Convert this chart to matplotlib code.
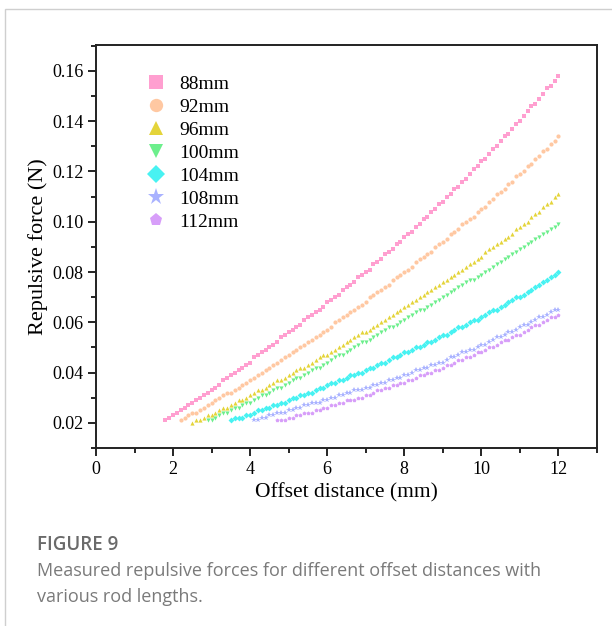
import matplotlib.pyplot as plt
import numpy as np
from matplotlib.patches import Rectangle
from matplotlib.ticker import MultipleLocator

plt.rcParams['font.family'] = ['Liberation Serif', 'DejaVu Serif']

LABELS = ['88mm', '92mm', '96mm', '100mm', '104mm', '108mm', '112mm']
MARKERS = ['s', 'o', '^', 'v', 'D', '*', 'p']
COLORS = ['#ff9fd0', '#ffc8a2', '#e4d43a', '#6cef8c', '#48f2f2', '#a9b2ff', '#d79ef9']

# first offset (mm) of each sweep; every sweep steps 0.1 mm up to 12 mm
START = [1.8, 2.2, 2.5, 2.9, 3.5, 4.1, 4.7]

# repulsive force in mN
f88 = [21, 22, 23,
       24, 25, 26, 27, 28, 29, 30, 31, 32, 33,
       34, 35, 37, 38, 39, 40, 41, 42, 43, 44,
       46, 47, 48, 49, 50, 51, 52, 54, 55, 56,
       57, 58, 59, 61, 62, 63, 64, 65, 66, 68,
       69, 70, 71, 73, 74, 75, 76, 78, 79, 80,
       81, 83, 84, 85, 87, 88, 89, 91, 92, 94,
       95, 96, 98, 99, 101, 102, 104, 105, 107, 108,
       110, 111, 113, 114, 116, 117, 119, 121, 122, 124,
       125, 127, 129, 130, 132, 134, 135, 137, 139, 140,
       142, 144, 146, 147, 149, 151, 153, 154, 156, 158]
f92 = [21, 22, 23, 24, 24, 25, 26, 27, 28,
       29, 30, 31, 32, 32, 33, 34, 35, 36, 37,
       38, 39, 40, 41, 42, 43, 44, 45, 46, 47,
       48, 49, 50, 51, 52, 53, 54, 55, 56, 57,
       58, 60, 61, 62, 63, 64, 65, 66, 67, 68,
       70, 71, 72, 73, 74, 75, 77, 78, 79, 80,
       81, 82, 84, 85, 86, 87, 88, 90, 91, 92,
       93, 95, 96, 97, 99, 100, 101, 102, 104, 105,
       106, 108, 109, 111, 112, 113, 115, 116, 118, 119,
       120, 122, 123, 125, 126, 128, 129, 131, 132, 134]
f96 = [20, 21, 21, 22, 23, 23,
       24, 25, 26, 26, 27, 28, 29, 29, 30, 31,
       32, 33, 33, 34, 35, 36, 37, 37, 38, 39,
       40, 41, 42, 42, 43, 44, 45, 46, 47, 47,
       48, 49, 50, 51, 52, 53, 54, 55, 56, 56,
       57, 58, 59, 60, 61, 62, 63, 64, 65, 66,
       67, 68, 69, 70, 71, 72, 73, 74, 75, 76,
       77, 78, 79, 80, 81, 82, 83, 84, 85, 86,
       88, 89, 90, 91, 92, 93, 94, 95, 97, 98,
       99, 100, 102, 103, 104, 106, 107, 108, 110, 111]
f100 = [21, 21,
        22, 23, 24, 24, 25, 26, 26, 27, 28, 28,
        29, 30, 31, 31, 32, 33, 34, 34, 35, 36,
        37, 38, 38, 39, 40, 41, 42, 42, 43, 44,
        45, 46, 47, 47, 48, 49, 50, 51, 52, 52,
        53, 54, 55, 56, 57, 58, 58, 59, 60, 61,
        62, 63, 64, 65, 65, 66, 67, 68, 69, 70,
        71, 72, 73, 74, 75, 76, 77, 77, 78, 79,
        80, 81, 82, 83, 84, 85, 86, 87, 88, 89,
        90, 91, 92, 93, 94, 95, 96, 97, 98, 99]
f104 = [21, 22, 22, 22, 23, 23,
        24, 25, 25, 26, 26, 27, 27, 28, 28, 29,
        30, 30, 31, 31, 32, 32, 33, 34, 34, 35,
        36, 36, 37, 37, 38, 39, 39, 40, 40, 41,
        42, 42, 43, 44, 44, 45, 46, 46, 47, 48,
        48, 49, 50, 50, 51, 52, 52, 53, 54, 55,
        55, 56, 57, 58, 58, 59, 60, 61, 61, 62,
        63, 64, 65, 65, 66, 67, 68, 69, 70, 70,
        71, 72, 73, 74, 75, 76, 77, 78, 79, 80]
f108 = [21, 21, 22, 22, 23, 23, 24, 24, 24, 25,
        25, 26, 26, 27, 27, 28, 28, 28, 29, 29,
        30, 30, 31, 31, 32, 32, 33, 33, 33, 34,
        34, 35, 35, 36, 36, 37, 37, 38, 38, 39,
        39, 40, 41, 41, 42, 42, 43, 43, 44, 44,
        45, 46, 46, 47, 48, 48, 49, 49, 50, 51,
        51, 52, 53, 54, 54, 55, 56, 56, 57, 58,
        59, 59, 60, 61, 62, 62, 63, 64, 65, 65]
f112 = [21, 21, 21, 22,
        22, 23, 23, 24, 24, 24, 25, 25, 26, 26,
        27, 27, 28, 28, 29, 29, 29, 30, 30, 31,
        31, 32, 33, 33, 34, 34, 35, 35, 36, 36,
        37, 37, 38, 39, 39, 40, 40, 41, 41, 42,
        43, 43, 44, 45, 45, 46, 46, 47, 48, 48,
        49, 50, 50, 51, 52, 53, 53, 54, 55, 55,
        56, 57, 58, 59, 59, 60, 61, 62, 62, 63]
FORCES = [f88, f92, f96, f100, f104, f108, f112]

fig = plt.figure(figsize=(6.12, 6.26), dpi=100)

# light frame around the figure panel (top and left edges show)
fig.patches.append(Rectangle((4.5 / 612, -0.1), 1.2, 1.1 - 8.5 / 626,
                             transform=fig.transFigure, fill=False,
                             edgecolor='#cfcfcf', linewidth=1.0))

ax = fig.add_axes([96 / 612, 1 - 448 / 626, 501 / 612, 403 / 626])

for x0, f, lab, m, c in zip(START, FORCES, LABELS, MARKERS, COLORS):
    x = np.round(np.arange(x0, 12.001, 0.1), 1)
    y = np.array(f) / 1000.0
    ax.plot(x, y, linestyle='none', marker=m, markersize=3.0 if m != '*' else 3.9,
            color=c, markeredgewidth=0, label=lab)

ax.set_xlim(0, 13)
ax.set_ylim(0.01, 0.1703)
ax.xaxis.set_major_locator(MultipleLocator(2))
ax.xaxis.set_minor_locator(MultipleLocator(1))
ax.yaxis.set_minor_locator(MultipleLocator(0.01))
ax.set_yticks(np.arange(0.02, 0.161, 0.02))
ax.set_yticklabels(['%.2f' % v for v in np.arange(0.02, 0.161, 0.02)])
ax.tick_params(which='major', direction='out', length=6, width=1.2, labelsize=13, pad=3,
               top=False, right=False)
ax.tick_params(which='minor', direction='out', length=3.5, width=1.2, top=False, right=False)
for s in ax.spines.values():
    s.set_linewidth(1.4)
    s.set_color('#222222')

ax.set_xlabel('Offset distance (mm)', fontsize=15.5, labelpad=4)
ax.set_ylabel('Repulsive force (N)', fontsize=16, labelpad=3)

ax.legend(loc='upper left', bbox_to_anchor=(0.085, 0.945), frameon=False, fontsize=14,
          markerscale=3.2, handlelength=1.0, handletextpad=0.7, labelspacing=0.28,
          borderaxespad=0)

fig.text(37 / 612, 1 - 545 / 626, 'FIGURE 9', family='Open Sans', fontsize=13.5,
         fontweight='semibold', color='#6a6a6a', va='center')
fig.text(37 / 612, 1 - 571 / 626,
         'Measured repulsive forces for different offset distances with',
         family='Open Sans', fontsize=13, color='#7a7a7a', va='center')
fig.text(37 / 612, 1 - 597 / 626, 'various rod lengths.',
         family='Open Sans', fontsize=13, color='#7a7a7a', va='center')

fig.savefig('out.png', dpi=100)
